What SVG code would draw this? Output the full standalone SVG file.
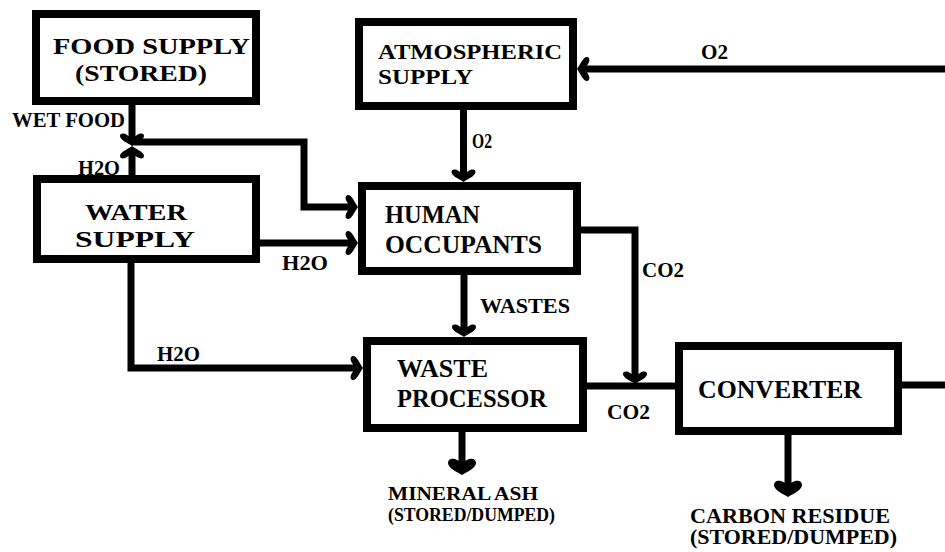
<svg xmlns="http://www.w3.org/2000/svg" width="945" height="552" viewBox="0 0 945 552">
  <style>
    .box { fill: #ffffff; stroke: #000000; stroke-width: 8; }
    .ln { fill: none; stroke: #000000; stroke-width: 7; stroke-linejoin: miter; }
    .t { font-family: "Liberation Serif", "Times New Roman", serif; font-weight: bold; fill: #000000; }
    .big { font-size: 24px; }
    .mid { font-size: 25px; }
    .tight { font-size: 22px; }
    .sm { font-size: 20px; }
    .xs { font-size: 18px; }
  </style>
  <defs>
    <marker id="ah" markerUnits="userSpaceOnUse" viewBox="-10 -14 18 28" markerWidth="18" markerHeight="28" refX="0" refY="0" orient="auto" overflow="visible">
      <path d="M6 0 C3 -4 0 -12 -4 -12 C-7 -12 -7 -8 -5 -5 Q-3 -2 -2 0 Q-3 2 -5 5 C-7 8 -7 12 -4 12 C0 12 3 4 6 0 Z" fill="#000"/>
    </marker>
    <marker id="ahOut" markerUnits="userSpaceOnUse" viewBox="-14 -17 22 34" markerWidth="22" markerHeight="34" refX="0" refY="0" orient="auto" overflow="visible">
      <path d="M6 0 C3 -5 -1 -14 -6 -14 C-10 -14 -11 -10 -10 -7 Q-8 -3 -7 0 Q-8 3 -10 7 C-11 10 -10 14 -6 14 C-1 14 3 5 6 0 Z" fill="#000"/>
    </marker>
  </defs>

  <rect x="0" y="0" width="945" height="552" fill="#ffffff"/>

  <g id="connectors">
    <path class="ln" d="M132 105 V140" marker-end="url(#ah)"/>
    <path class="ln" d="M132 175 V152" marker-end="url(#ah)"/>
    <path class="ln" d="M132 142 H304 V207 H352" marker-end="url(#ah)"/>
    <path class="ln" d="M260 243 H352" marker-end="url(#ah)"/>
    <path class="ln" d="M463.5 110 V176" marker-end="url(#ah)"/>
    <path class="ln" d="M902 385 H951 V69 H583" marker-end="url(#ah)"/>
    <path class="ln" d="M581 230 H635 V378" marker-end="url(#ah)"/>
    <path class="ln" d="M464 275 V331" marker-end="url(#ah)"/>
    <path class="ln" d="M131 263 V368 H357" marker-end="url(#ah)"/>
    <path class="ln" d="M587 386 H675"/>
    <path class="ln" d="M462 432 V469" marker-end="url(#ahOut)"/>
    <path class="ln" d="M788 435 V491" marker-end="url(#ahOut)"/>
  </g>

  <g id="food-supply">
    <rect class="box" x="36" y="14" width="220" height="87"/>
    <text class="t big" x="53" y="54" textLength="197" lengthAdjust="spacingAndGlyphs">FOOD SUPPLY</text>
    <text class="t big" x="75" y="81" textLength="132" lengthAdjust="spacingAndGlyphs">(STORED)</text>
  </g>

  <g id="atmospheric-supply">
    <rect class="box" x="359" y="22" width="214" height="84"/>
    <text class="t tight" x="378" y="59" textLength="184" lengthAdjust="spacingAndGlyphs">ATMOSPHERIC</text>
    <text class="t tight" x="378" y="84" textLength="95" lengthAdjust="spacingAndGlyphs">SUPPLY</text>
  </g>

  <g id="water-supply">
    <rect class="box" x="37" y="179" width="219" height="80"/>
    <text class="t big" x="85" y="220" textLength="102" lengthAdjust="spacingAndGlyphs">WATER</text>
    <text class="t big" x="75" y="247" textLength="120" lengthAdjust="spacingAndGlyphs">SUPPLY</text>
  </g>

  <g id="human-occupants">
    <rect class="box" x="362" y="186" width="215" height="85"/>
    <text class="t mid" x="385" y="223" textLength="95" lengthAdjust="spacingAndGlyphs">HUMAN</text>
    <text class="t mid" x="385" y="253" textLength="157" lengthAdjust="spacingAndGlyphs">OCCUPANTS</text>
  </g>

  <g id="waste-processor">
    <rect class="box" x="367" y="341" width="216" height="87"/>
    <text class="t mid" x="397" y="377" textLength="91" lengthAdjust="spacingAndGlyphs">WASTE</text>
    <text class="t mid" x="397" y="407" textLength="150" lengthAdjust="spacingAndGlyphs">PROCESSOR</text>
  </g>

  <g id="converter">
    <rect class="box" x="679" y="346" width="219" height="85"/>
    <text class="t mid" x="698" y="398" textLength="164" lengthAdjust="spacingAndGlyphs">CONVERTER</text>
  </g>

  <g id="labels">
    <text class="t sm" x="12" y="127" textLength="113" lengthAdjust="spacingAndGlyphs">WET FOOD</text>
    <text class="t sm" x="78" y="175" textLength="42" lengthAdjust="spacingAndGlyphs">H2O</text>
    <text class="t sm" x="282" y="270" textLength="46" lengthAdjust="spacingAndGlyphs">H2O</text>
    <text class="t sm" x="157" y="361" textLength="43" lengthAdjust="spacingAndGlyphs">H2O</text>
    <text class="t sm" x="701" y="59" textLength="27" lengthAdjust="spacingAndGlyphs">O2</text>
    <text class="t sm" x="472" y="148" textLength="20" lengthAdjust="spacingAndGlyphs">O2</text>
    <text class="t sm" x="642" y="277" textLength="42" lengthAdjust="spacingAndGlyphs">CO2</text>
    <text class="t sm" x="480" y="313" textLength="90" lengthAdjust="spacingAndGlyphs">WASTES</text>
    <text class="t sm" x="607" y="419" textLength="43" lengthAdjust="spacingAndGlyphs">CO2</text>
    <text class="t xs" x="388" y="500" textLength="150" lengthAdjust="spacingAndGlyphs">MINERAL ASH</text>
    <text class="t xs" x="388" y="521" textLength="167" lengthAdjust="spacingAndGlyphs">(STORED/DUMPED)</text>
    <text class="t sm" x="690" y="523" textLength="200" lengthAdjust="spacingAndGlyphs">CARBON RESIDUE</text>
    <text class="t sm" x="690" y="544" textLength="207" lengthAdjust="spacingAndGlyphs">(STORED/DUMPED)</text>
  </g>
</svg>
